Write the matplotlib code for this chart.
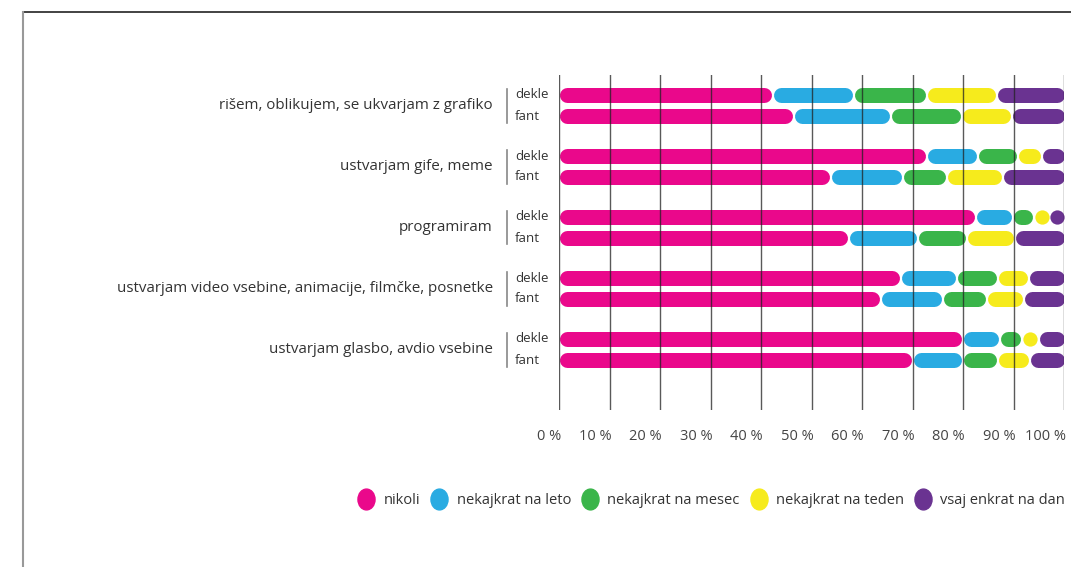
import matplotlib.pyplot as plt
from matplotlib.lines import Line2D
from matplotlib.path import Path
from matplotlib.transforms import Affine2D

plt.rcParams['font.family'] = ['Open Sans', 'DejaVu Sans']

# kategorije in podatki (odstotki)
categories = [
    'rišem, oblikujem, se ukvarjam z grafiko',
    'ustvarjam gife, meme',
    'programiram',
    'ustvarjam video vsebine, animacije, filmčke, posnetke',
    'ustvarjam glasbo, avdio vsebine',
]
groups = ['dekle', 'fant']
series = ['nikoli', 'nekajkrat na leto', 'nekajkrat na mesec',
          'nekajkrat na teden', 'vsaj enkrat na dan']
colors = ['#EA088B', '#29ABE2', '#3AB54A', '#F6EB1C', '#6A3391']

dekle = [
    [42.2, 16.2, 14.4, 13.9, 13.3],
    [72.8, 10.1, 7.8, 4.9, 4.4],
    [82.5, 7.3, 4.2, 3.2, 2.8],
    [67.7, 11.1, 8.0, 6.1, 7.1],
    [79.9, 7.4, 4.3, 3.4, 5.0],
]
fant = [
    [46.5, 19.1, 14.2, 9.8, 10.4],
    [53.7, 14.3, 8.7, 11.2, 12.1],
    [57.4, 13.5, 9.7, 9.6, 9.8],
    [63.6, 12.4, 8.6, 7.3, 8.1],
    [70.0, 9.9, 7.0, 6.3, 6.8],
]
ticks = list(range(0, 101, 10))
tick_labels = [f'{t} %' for t in ticks]

W, H, DPI = 1071, 567, 100
fig = plt.figure(figsize=(W / DPI, H / DPI), dpi=DPI)
ax_l, ax_r, ax_t, ax_b = 559, 1064, 75, 410
ax = fig.add_axes([ax_l / W, 1 - ax_b / H, (ax_r - ax_l) / W, (ax_b - ax_t) / H])
ax.set_xlim(0, 100)
ax.set_ylim(4 + 60.5 / 61, -30.5 / 61)
ax.axis('off')

px_per_unit = (ax_r - ax_l) / 100
bar_px = 15
lw = bar_px * 72 / DPI
r = bar_px / 2 / px_per_unit
gap = 1.0 / px_per_unit
off = 10.5 / 61


def draw_row(y, vals):
    left = 0
    for i, v in enumerate(vals):
        a = left + r + (gap if i > 0 else 0)
        b = left + v - r - (gap if i < len(vals) - 1 else 0)
        if b - a < 0.3:
            # premajhen delež -> samo krogec
            ax.plot([left + v / 2], [y], marker='o', ls='', markersize=lw * 0.95,
                    markerfacecolor=colors[i], markeredgewidth=0, zorder=2)
        else:
            ax.plot([a, b], [y, y], color=colors[i], lw=lw,
                    solid_capstyle='round', zorder=2)
        left += v


for g in range(len(categories)):
    draw_row(g - off, dekle[g])
    draw_row(g + off, fant[g])

# mreža
for t in ticks:
    ax.axvline(t, color='#222222', lw=1, alpha=0.75, zorder=3)

# besedila
for g, cat in enumerate(categories):
    yc = ax_t + (g + 0.5) * 61
    fig.text(493 / W, 1 - yc / H, cat, ha='right', va='center',
             fontsize=10.9, color='#333333')
    fig.add_artist(Line2D([507 / W, 507 / W],
                          [1 - (yc - 17) / H, 1 - (yc + 17) / H],
                          color='#888888', lw=1.2))
    fig.text(515 / W, 1 - (yc - 10.5) / H, groups[0], ha='left', va='center',
             fontsize=9.5, color='#333333')
    fig.text(515 / W, 1 - (yc + 10.5) / H, groups[1], ha='left', va='center',
             fontsize=9.5, color='#333333')

for t, lab in zip(ticks, tick_labels):
    x = ax_l + t * px_per_unit
    fig.text((x + 2) / W, 1 - 437 / H, lab, ha='right', va='center',
             fontsize=10.5, color='#444444')

# okvir
fig.add_artist(Line2D([23 / W, 1], [1 - 11.5 / H, 1 - 11.5 / H],
                      color='#222222', lw=1.2))
fig.add_artist(Line2D([23 / W, 23 / W], [0, 1 - 11.5 / H],
                      color='#999999', lw=1.5))

# legenda
ellipse = Path.unit_circle().transformed(Affine2D().scale(0.82, 1.0))
handles = [Line2D([], [], marker=ellipse, ls='', markersize=15,
                  markerfacecolor=c, markeredgecolor=c) for c in colors]
fig.legend(handles, series, loc='center', ncol=5,
           bbox_to_anchor=(712 / W, 1 - 501 / H), frameon=False,
           handlelength=1.0, handletextpad=0.7, columnspacing=0.8,
           fontsize=10.5, labelcolor='#333333')

fig.savefig('out.png', dpi=DPI)
